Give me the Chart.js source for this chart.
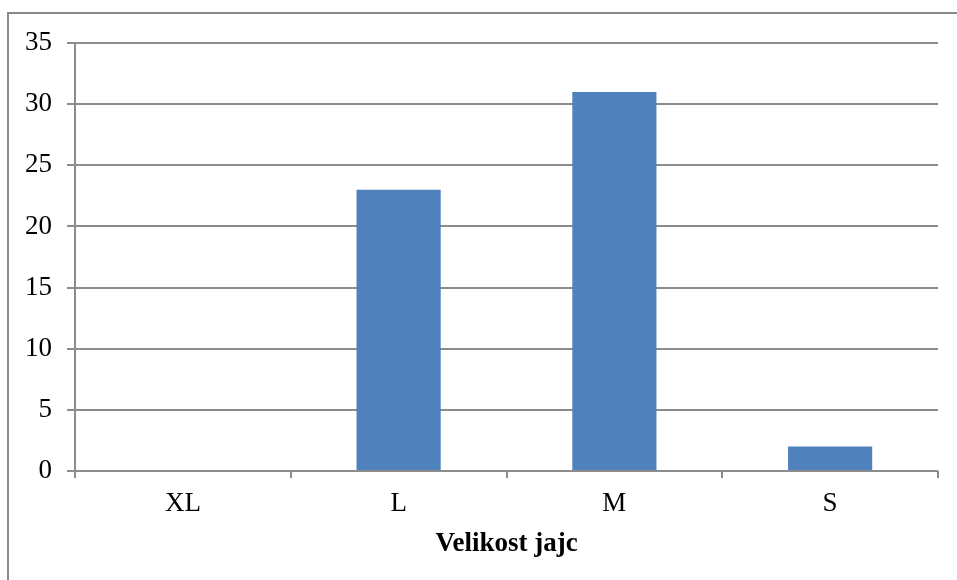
<!DOCTYPE html>
<html>
<head>
<meta charset="utf-8">
<script src="https://cdn.jsdelivr.net/npm/chart.js@4.4.1/dist/chart.umd.min.js"></script>
<style>
  html, body { margin: 0; padding: 0; background: #fff; }
  #wrap { position: relative; width: 957px; height: 580px; overflow: hidden; }
  #frame {
    position: absolute; left: 7px; top: 12px; width: 1000px; height: 700px;
    border-left: 2px solid #8a8a8a; border-top: 2px solid #8a8a8a;
  }
  canvas { position: absolute; left: 0; top: 0; }
</style>
</head>
<body>
<div id="wrap">
  <div id="frame"></div>
  <canvas id="eggChart" width="957" height="580"></canvas>
</div>
<script>
const sizes = ['XL', 'L', 'M', 'S'];
const counts = [0, 23, 31, 2];
const yTicks = [0, 5, 10, 15, 20, 25, 30, 35];
const axisTitle = 'Velikost jajc';

const gridGray = '#8c8c8c';
const serif = "'Liberation Serif', 'Times New Roman', serif";

const ctx = document.getElementById('eggChart').getContext('2d');

new Chart(ctx, {
    type: 'bar',
    data: {
        labels: sizes,
        datasets: [
            {
                data: counts,
                backgroundColor: '#4F81BD',
                borderWidth: 0,
                barPercentage: 0.39,
                categoryPercentage: 1
            }
        ]
    },
    options: {
        responsive: false,
        animation: false,
        layout: {
            padding: { left: 0, right: 19, top: 43, bottom: 0 }
        },
        plugins: {
            legend: { display: false },
            tooltip: { enabled: false }
        },
        scales: {
            x: {
                offset: true,
                grid: {
                    offset: true,
                    drawOnChartArea: false,
                    drawTicks: true,
                    tickLength: 7,
                    color: gridGray,
                    lineWidth: 2
                },
                border: { display: false },
                ticks: {
                    color: '#000',
                    font: { family: serif, size: 27 },
                    padding: 10
                },
                title: {
                    display: true,
                    text: axisTitle,
                    color: '#000',
                    font: { family: serif, size: 27, weight: 'bold' },
                    padding: { top: 4, bottom: 20 }
                },
                afterFit: (scale) => { scale.height = 109; }
            },
            y: {
                min: 0,
                max: 35,
                afterBuildTicks: (scale) => {
                    scale.ticks = yTicks.map(v => ({ value: v }));
                },
                grid: {
                    color: gridGray,
                    lineWidth: 2,
                    drawTicks: true,
                    tickLength: 8
                },
                border: { display: true, color: gridGray, width: 2 },
                ticks: {
                    color: '#000',
                    font: { family: serif, size: 27 },
                    padding: 15
                },
                afterFit: (scale) => { scale.width = 75; }
            }
        }
    }
});
</script>
</body>
</html>
